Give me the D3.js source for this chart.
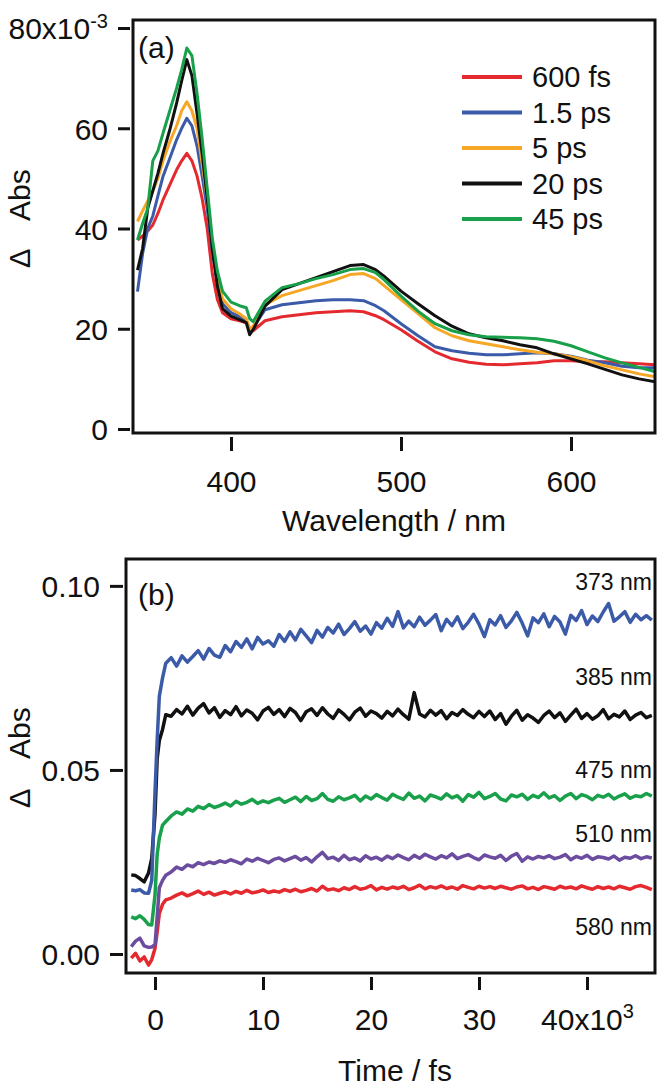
<!DOCTYPE html>
<html><head><meta charset="utf-8">
<script src="https://cdn.jsdelivr.net/npm/d3@7"></script>
<style>html,body{margin:0;padding:0;background:#fff}svg{display:block}text{font-family:"Liberation Sans",Arial,Helvetica,sans-serif;fill:#111}</style>
</head><body>
<svg id="c" width="666" height="1088"></svg>
<script>
// ---------- Panel (a): transient spectra (ΔAbs in 10^-3) ----------
const wavelengths = [345,348,351,354,357,360,364,368,371,374,377,380,383,386,389,392,395,400,405,409,411,413,420,430,440,450,460,470,478,485,490,500,510,520,530,540,550,560,570,580,590,600,610,620,630,640,650];
const spec600fs = [37.7,38.5,39.5,40.7,43,45.7,48.7,51.7,53.5,55,53.5,50.5,46,40,31,25.8,23.2,22,21.6,21.2,20,19.6,21.6,22.4,22.8,23.2,23.4,23.6,23.4,22.6,21.8,19.8,17.5,15.4,14,13.3,12.9,12.8,13,13.2,13.6,13.6,13.4,13.4,13.2,13,12.8];
const spec1p5ps = [27.4,35,40,42.5,46.5,50.4,54,57.7,60,62,60.5,56.5,50.5,44,35.5,29,25,23.2,22.4,21.6,19.8,20.2,23.8,24.8,25.2,25.6,25.8,25.8,25.6,24.6,23.6,21,18.6,16.4,15.6,15.1,14.8,14.8,15,15.2,15,14.5,13.7,13.2,12.5,12.2,12.2];
const spec5ps = [41.4,43.5,45.5,47.5,50,53.5,57.3,60.5,63.5,65.3,63.5,60,53,46,37,30,26,24,23,22,20,20.5,24.8,26.6,27.6,28.6,29.6,30.8,31,30,28.6,25.8,23,20.2,18.6,17.6,17,16.4,15.8,15.3,15,14.4,13.6,12.6,11.8,11,10.4];
const spec20ps = [31.7,36,44,47.5,51,55,59.7,65,69.5,73.7,70.5,63,55,46,36,28.5,24,22.5,21.8,21.2,18.8,19.8,24.5,27.8,29,30.2,31.4,32.6,32.8,31.8,30.5,27.5,25,22.6,20.5,19,18.2,17.6,16.8,16.2,15,14,13,11.9,10.8,10,9.4];
const spec45ps = [37.7,41,44,53.5,55.5,59,63.5,68,71.7,76,74.5,67,58,48,38,31.5,27.5,25.3,24.6,24.2,22,21.4,25.5,28.2,29,30,30.8,31.8,32,31.2,29.8,26.5,23.5,21,19.6,18.8,18.4,18.3,18.2,18,17.5,16.6,15.4,14.2,13.2,12.3,11.4];
const specLabels = ["600 fs","1.5 ps","5 ps","20 ps","45 ps"];
const specColors = ["#e52a2f","#3b5ba9","#f6a726","#111111","#18a04a"];
const specTicksY = [0,20,40,60,80];
const specTicksX = [400,500,600];

// ---------- Panel (b): kinetic traces (ΔAbs in 10^-3) ----------
const timeEarly = [-2200,-1800,-1400,-1000,-600,-300,0,200,400,700,1000];
const timeLate = d3.range(1500, 46001, 500); // sampling grid
const times = timeEarly.concat(timeLate);
const k373 = [17.4,17.2,17.5,16.6,16.5,20,44,58,70,75,79,
 80.5,78.2,81.0,79.3,80.8,82.4,80.1,83.0,81.2,80.6,
 83.8,82.1,84.9,83.3,85.6,82.9,86.0,84.2,85.1,83.6,
 86.8,84.9,87.5,85.3,88.2,86.4,84.6,87.9,86.1,88.7,
 87.2,89.6,86.8,88.4,90.3,87.7,89.1,86.9,90.0,88.5,
 91.2,89.0,93.0,88.6,90.4,88.9,91.5,89.3,90.7,92.2,
 87.8,90.9,89.2,91.6,88.4,90.1,92.3,89.6,86.2,90.8,
 89.4,91.9,88.7,90.5,92.8,89.9,86.4,91.3,90.0,92.4,
 88.9,91.7,90.2,86.9,92.0,90.6,93.3,89.5,91.8,90.3,
 92.9,95.2,90.4,91.6,93.0,90.1,92.3,90.8,91.9,90.7];
const k385 = [21.5,21.3,20.5,19.6,22,26,38,53,58,61,65,
 64.6,66.4,65.2,67.3,64.9,66.8,68.0,65.5,66.9,64.3,
 66.1,65.0,67.2,64.7,66.3,65.4,63.6,66.0,67.0,65.1,
 66.4,64.5,66.7,65.6,63.4,65.8,66.6,64.8,66.9,65.2,
 64.0,66.3,65.1,63.6,65.7,66.8,64.6,66.0,65.3,64.1,
 65.9,64.7,66.5,65.0,63.8,71.0,65.2,64.4,66.2,64.9,
 66.1,63.9,65.6,64.8,66.4,65.1,64.2,65.9,64.5,66.0,
 63.7,65.3,62.4,64.6,66.2,63.5,65.0,64.1,62.9,64.8,
 66.0,64.2,65.5,63.2,64.9,66.5,64.0,65.3,63.8,64.7,
 66.4,63.9,65.1,64.4,66.0,63.7,64.9,65.6,64.2,64.8];
const k475 = [10.1,9.6,10.4,9.4,8.0,7.9,16,27,31.5,35,36,
 37.5,38.6,38.0,39.4,38.8,40.1,39.5,40.6,39.8,40.3,
 41.0,40.2,41.5,40.7,41.2,42.0,40.9,41.6,41.1,41.8,
 42.3,41.2,41.9,42.6,41.4,42.8,41.7,42.2,43.6,42.0,
 41.5,42.7,41.9,42.4,43.1,41.6,42.9,42.1,43.3,42.5,
 41.8,43.4,42.6,42.0,43.7,42.3,42.9,41.6,43.2,42.7,
 42.1,43.5,42.4,43.0,41.5,43.3,42.6,43.9,42.2,42.8,
 43.6,42.1,41.6,43.2,42.7,43.4,42.0,43.1,42.5,43.8,
 42.4,43.0,41.7,42.9,43.6,42.2,43.3,42.8,41.9,43.1,
 42.6,43.4,42.1,42.9,43.5,42.3,43.0,42.7,43.6,42.9];
const k510 = [2.0,3.5,4.3,2.2,1.8,1.9,2.5,10,18,20,21.4,
 22.3,23.6,23.0,24.2,23.7,24.8,24.3,25.0,24.6,25.3,
 24.9,25.6,25.1,24.5,25.8,25.2,26.0,25.4,24.8,25.7,
 26.1,25.3,25.9,26.5,25.5,26.2,25.0,26.4,27.6,25.9,
 26.3,25.4,26.8,25.6,26.1,25.3,26.7,25.8,26.3,25.5,
 26.6,25.9,26.9,26.2,25.6,26.8,26.0,27.1,26.4,25.8,
 26.7,26.1,27.2,25.9,26.5,27.0,26.2,25.6,26.9,26.4,
 26.0,26.8,25.4,26.6,27.3,25.2,26.4,25.8,26.5,26.1,
 26.7,25.9,26.3,27.0,25.6,26.5,26.0,26.8,25.7,26.4,
 26.2,25.8,26.6,25.5,26.3,26.0,26.7,25.9,26.4,26.1];
const k580 = [-1.1,0.2,-1.9,-0.8,-3.0,-1.5,1.5,6,11,13.5,14.7,
 15.2,16.0,16.6,15.8,16.4,17.1,16.2,16.8,16.0,16.5,
 16.9,16.3,17.0,16.5,17.3,16.6,16.9,17.4,16.7,17.1,
 16.8,17.5,17.0,17.6,16.9,17.3,17.8,17.1,18.4,17.4,
 17.7,17.2,18.0,17.5,18.3,17.6,17.9,18.6,17.4,18.1,
 17.6,18.2,17.8,18.4,17.5,18.0,18.7,17.7,18.3,17.9,
 18.5,17.8,18.2,17.6,18.6,18.1,17.7,18.4,17.9,18.3,
 17.8,18.4,18.0,17.6,18.2,18.5,17.7,18.1,17.5,18.3,
 18.0,17.6,18.4,17.9,18.2,17.7,18.5,18.0,17.6,18.3,
 17.8,18.2,17.7,18.4,18.0,17.6,18.3,18.6,18.1,17.5];
const kinLabels = ["373 nm","385 nm","475 nm","510 nm","580 nm"];
const kinColors = ["#3b5ba9","#111111","#18a04a","#6b4c9e","#e52a2f"];
const kinTicksY = [0,50,100];
const kinTicksX = [0,10000,20000,30000,40000];

const svg = d3.select("#c");
svg.append("rect").attr("width",666).attr("height",1088).attr("fill","#fff");

// ================= Panel A =================
const A = {l:133, r:655, t:20, b:433};
const xA = d3.scaleLinear().domain([342.35, 649.4]).range([A.l, A.r]);
const yA = d3.scaleLinear().domain([-0.8, 81.6]).range([A.b, A.t]);

svg.append("clipPath").attr("id","clipA").append("rect")
  .attr("x",A.l).attr("y",A.t).attr("width",A.r-A.l).attr("height",A.b-A.t);
const specSeries = [spec600fs, spec1p5ps, spec5ps, spec20ps, spec45ps];
const lineA = d3.line().x((d,i)=>xA(wavelengths[i])).y(d=>yA(d));
const gA = svg.append("g").attr("clip-path","url(#clipA)");
specSeries.forEach((s,k)=>{
  gA.append("path").datum(s).attr("d",lineA).attr("fill","none")
    .attr("stroke",specColors[k]).attr("stroke-width",3).attr("stroke-linejoin","round");
});
svg.append("rect").attr("x",A.l).attr("y",A.t).attr("width",A.r-A.l).attr("height",A.b-A.t)
  .attr("fill","none").attr("stroke","#111").attr("stroke-width",3);

// y axis A
const yAxA = svg.append("g").attr("transform",`translate(${A.l-3},0)`)
  .call(d3.axisLeft(yA).tickValues(specTicksY).tickSize(12).tickFormat(d=>d));
yAxA.select(".domain").remove();
yAxA.selectAll("line").attr("stroke","#111").attr("stroke-width",3);
yAxA.selectAll("text").attr("x",-22).attr("dy","0.36em").attr("font-size",30).attr("fill","#111")
  .style("font-family","Liberation Sans, Arial, sans-serif");
yAxA.selectAll(".tick").filter(d=>d===80).select("text").each(function(){
  const t = d3.select(this); t.text("");
  t.append("tspan").text("80x10");
  t.append("tspan").attr("dy","-0.55em").attr("font-size",20).text("-3");
});

// x axis A
const xAxA = svg.append("g").attr("transform",`translate(0,${A.b+4})`)
  .call(d3.axisBottom(xA).tickValues(specTicksX).tickSize(14).tickFormat(d=>d));
xAxA.select(".domain").remove();
xAxA.selectAll("line").attr("stroke","#111").attr("stroke-width",3);
xAxA.selectAll("text").attr("y",55).attr("dy",0).attr("font-size",30).attr("fill","#111")
  .style("font-family","Liberation Sans, Arial, sans-serif");

svg.append("text").attr("x",394).attr("y",531).attr("text-anchor","middle").attr("font-size",30).text("Wavelength / nm");
svg.append("text").attr("transform","translate(30,0) rotate(-90)").attr("x",-268).attr("y",0).attr("font-size",29).text("Δ");
svg.append("text").attr("transform","translate(30,0) rotate(-90)").attr("x",-221).attr("y",0).attr("font-size",30).text("Abs");
svg.append("text").attr("x",138).attr("y",58).attr("font-size",30).text("(a)");

// legend A
specLabels.forEach((lab,k)=>{
  const y = 77 + k*35.5;
  svg.append("line").attr("x1",462).attr("x2",522).attr("y1",y).attr("y2",y)
    .attr("stroke",specColors[k]).attr("stroke-width",4);
  svg.append("text").attr("x",532).attr("y",y).attr("dy","0.36em").attr("font-size",29).text(lab);
});

// ================= Panel B =================
const B = {l:126, r:655, t:559, b:973};
const xB = d3.scaleLinear().domain([-2685, 46296]).range([B.l, B.r]);
const yB = d3.scaleLinear().domain([-5.16, 107.3]).range([B.b, B.t]);
svg.append("clipPath").attr("id","clipB").append("rect")
  .attr("x",B.l).attr("y",B.t).attr("width",B.r-B.l).attr("height",B.b-B.t);
const kinSeries = [k373, k385, k475, k510, k580];
const lineB = d3.line().x((d,i)=>xB(times[i])).y(d=>yB(d));
const gB = svg.append("g").attr("clip-path","url(#clipB)");
[4,3,2,1,0].forEach(k=>{
  gB.append("path").datum(kinSeries[k]).attr("d",lineB).attr("fill","none")
    .attr("stroke",kinColors[k]).attr("stroke-width",3.5).attr("stroke-linejoin","round");
});
svg.append("rect").attr("x",B.l).attr("y",B.t).attr("width",B.r-B.l).attr("height",B.b-B.t)
  .attr("fill","none").attr("stroke","#111").attr("stroke-width",3);

const yAxB = svg.append("g").attr("transform",`translate(${B.l-3},0)`)
  .call(d3.axisLeft(yB).tickValues(kinTicksY).tickSize(13).tickFormat(d=>(d/1000).toFixed(2)));
yAxB.select(".domain").remove();
yAxB.selectAll("line").attr("stroke","#111").attr("stroke-width",3);
yAxB.selectAll("text").attr("x",-23).attr("dy","0.36em").attr("font-size",30).attr("fill","#111")
  .style("font-family","Liberation Sans, Arial, sans-serif");

const xAxB = svg.append("g").attr("transform",`translate(0,${B.b+4})`)
  .call(d3.axisBottom(xB).tickValues(kinTicksX).tickSize(13).tickFormat(d=>d/1000));
xAxB.select(".domain").remove();
xAxB.selectAll("line").attr("stroke","#111").attr("stroke-width",3);
xAxB.selectAll("text").attr("y",53).attr("dy",0).attr("font-size",30).attr("fill","#111")
  .style("font-family","Liberation Sans, Arial, sans-serif");
xAxB.selectAll(".tick").filter(d=>d===40000).select("text").each(function(){
  const t = d3.select(this); t.text("");
  t.append("tspan").text("40x10");
  t.append("tspan").attr("dy","-0.6em").attr("font-size",20).text("3");
});

svg.append("text").attr("x",395).attr("y",1081).attr("text-anchor","middle").attr("font-size",30).text("Time / fs");
svg.append("text").attr("transform","translate(30,0) rotate(-90)").attr("x",-808).attr("y",0).attr("font-size",29).text("Δ");
svg.append("text").attr("transform","translate(30,0) rotate(-90)").attr("x",-759).attr("y",0).attr("font-size",30).text("Abs");
svg.append("text").attr("x",138).attr("y",605).attr("font-size",30).text("(b)");

const kinLabelY = [590,685,778,842,935];
kinLabels.forEach((lab,k)=>{
  svg.append("text").attr("x",652).attr("y",kinLabelY[k]).attr("text-anchor","end").attr("font-size",23).text(lab);
});
</script>
</body></html>
